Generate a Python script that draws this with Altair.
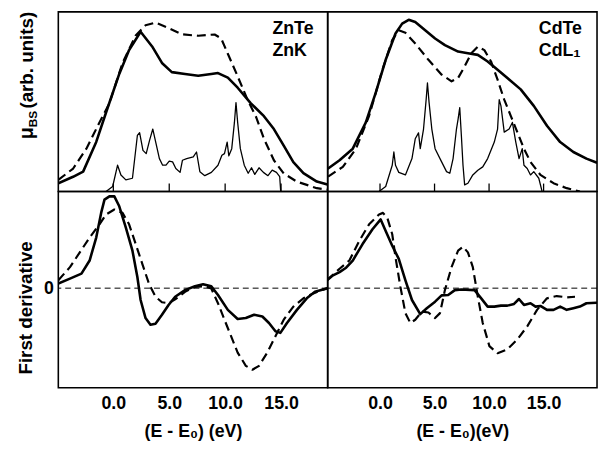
import altair as alt
import pandas as pd

FONT = "Liberation Sans"

# ---------------- data ----------------
# Top-left: ZnTe, Zn K edge  (mu_BS, arb. units)
tl_solid_E = [-4.92, -3.6, -2.7, -1.53, -0.65, 0.53, 1.41, 2.44, 3.47, 4.35, 5.23, 6.41, 7.59, 8.76, 9.36,
              10.24, 11.12, 12.3, 13.47, 14.36, 15.24, 16.1, 17.0, 18.2, 19.15]
tl_solid_V = [0.045, 0.08, 0.108, 0.27, 0.43, 0.64, 0.77, 0.87, 0.79, 0.70, 0.65, 0.64, 0.63, 0.64, 0.645,
              0.62, 0.565, 0.48, 0.41, 0.34, 0.25, 0.16, 0.10, 0.054, 0.038]
tl_dash_E = [-4.92, -3.59, -2.41, -1.24, -0.35, 0.82, 2.0, 2.88, 3.77, 4.94, 6.12, 7.59, 9.06, 9.65, 10.24,
             11.12, 12.0, 12.74, 13.47, 14.36, 15.24, 16.4, 18.2, 19.15]
tl_dash_V = [0.063, 0.125, 0.233, 0.376, 0.48, 0.70, 0.85, 0.905, 0.92, 0.89, 0.856, 0.848, 0.855, 0.833, 0.75,
             0.627, 0.50, 0.41, 0.287, 0.17, 0.098, 0.054, 0.018, 0.01]
tl_dos_E = [-0.65, -0.06, 0.38, 0.68, 1.12, 1.71, 2.15, 2.35, 2.65, 2.94, 3.24, 3.53, 3.82, 4.12, 4.41, 4.71,
            5.0, 5.3, 5.59, 5.97, 6.18, 6.56, 7.15, 7.44, 7.74, 8.18, 8.77, 9.36, 9.71, 9.94, 10.18, 10.33,
            10.59, 10.83, 10.97, 11.12, 11.36, 11.71, 12.06, 12.36, 12.65, 13.03, 13.42, 13.83, 14.21, 14.59,
            14.88, 14.97]
tl_dos_V = [0.0, 0.027, 0.143, 0.09, 0.063, 0.072, 0.305, 0.32, 0.224, 0.206, 0.278, 0.34, 0.26, 0.179, 0.143,
            0.143, 0.165, 0.161, 0.125, 0.104, 0.17, 0.179, 0.188, 0.215, 0.108, 0.086, 0.104, 0.143, 0.197,
            0.206, 0.269, 0.194, 0.233, 0.376, 0.484, 0.376, 0.233, 0.143, 0.099, 0.129, 0.093, 0.129, 0.104,
            0.086, 0.116, 0.104, 0.081, 0.0]

# Top-right: CdTe, Cd L1 edge
tr_solid_E = [-4.76, -3.71, -2.5, -1.3, -0.39, 0.52, 1.42, 2.03, 2.63, 3.23, 4.14, 5.05, 5.95, 7.16, 8.06,
              8.97, 9.87, 10.78, 11.68, 12.9, 14.1, 15.31, 16.52, 17.73, 18.93, 19.84]
tr_solid_V = [0.125, 0.17, 0.233, 0.376, 0.538, 0.717, 0.86, 0.914, 0.935, 0.923, 0.878, 0.833, 0.797, 0.762,
              0.753, 0.744, 0.708, 0.663, 0.618, 0.556, 0.466, 0.358, 0.269, 0.215, 0.179, 0.158]
tr_dash_E = [-4.76, -3.41, -2.2, -1.0, 0.22, 1.12, 1.72, 2.33, 3.23, 4.44, 5.65, 6.56, 7.16, 7.76, 8.37, 8.97,
             9.57, 10.18, 10.78, 11.39, 11.99, 12.59, 13.2, 13.8, 14.71, 15.91, 17.12, 18.33]
tr_dash_V = [0.081, 0.134, 0.233, 0.412, 0.663, 0.824, 0.878, 0.864, 0.806, 0.717, 0.636, 0.60, 0.618, 0.681,
             0.753, 0.789, 0.77, 0.708, 0.609, 0.50, 0.412, 0.323, 0.233, 0.161, 0.09, 0.045, 0.018, 0.0]
tr_dos_E = [-0.09, 0.52, 1.12, 1.27, 1.42, 1.72, 2.33, 2.93, 3.23, 3.53, 3.69, 3.99, 4.23, 4.35, 4.5, 4.75,
            5.05, 5.65, 6.1, 6.4, 6.7, 7.01, 7.16, 7.31, 7.46, 7.61, 7.76, 8.06, 8.51, 8.97, 9.42, 9.87,
            10.48, 10.78, 10.93, 11.09, 11.39, 11.84, 12.14, 12.45, 12.75, 13.04, 13.2, 13.5, 13.8, 14.1,
            14.56, 14.86]
tr_dos_V = [0.0, 0.027, 0.143, 0.215, 0.143, 0.104, 0.09, 0.179, 0.287, 0.319, 0.233, 0.34, 0.50, 0.591,
            0.484, 0.34, 0.233, 0.161, 0.108, 0.099, 0.179, 0.34, 0.394, 0.457, 0.305, 0.143, 0.036, 0.045,
            0.09, 0.116, 0.134, 0.179, 0.269, 0.34, 0.50, 0.466, 0.323, 0.34, 0.376, 0.269, 0.179, 0.233,
            0.143, 0.125, 0.09, 0.108, 0.072, 0.0]

# Bottom-left: first derivative, ZnTe
bl_solid_E = [-4.92, -3.88, -2.85, -2.12, -1.53, -1.09, -0.79, -0.35, 0.09, 0.53, 1.12, 1.71, 2.15, 2.44,
              2.88, 3.32, 3.77, 4.35, 4.94, 5.53, 6.41, 7.3, 8.03, 8.76, 9.36, 10.24, 11.12, 11.85, 12.59,
              13.33, 13.92, 14.5, 14.94, 15.53, 16.42, 17.3, 18.03, 19.15]
bl_solid_V = [0.047, 0.097, 0.147, 0.28, 0.513, 0.763, 0.897, 0.93, 0.93, 0.83, 0.613, 0.38, 0.113, -0.12,
              -0.303, -0.37, -0.36, -0.27, -0.17, -0.087, -0.02, 0.02, 0.04, 0.02, -0.07, -0.22, -0.313,
              -0.303, -0.27, -0.287, -0.353, -0.437, -0.453, -0.353, -0.22, -0.103, -0.037, 0.0]
bl_dash_E = [-4.92, -3.88, -3.0, -2.12, -1.24, -0.65, 0.09, 0.82, 1.41, 2.0, 2.59, 3.18, 3.77, 4.35, 4.94,
             5.53, 6.41, 7.3, 8.18, 8.76, 9.36, 9.94, 10.53, 11.12, 11.85, 12.44, 13.03, 13.77, 14.5, 15.24,
             16.1, 17.0, 17.89, 19.15]
bl_dash_V = [0.08, 0.213, 0.363, 0.513, 0.647, 0.747, 0.797, 0.763, 0.647, 0.447, 0.247, 0.047, -0.087,
             -0.143, -0.153, -0.113, -0.037, 0.013, 0.02, -0.003, -0.153, -0.32, -0.487, -0.653, -0.787,
             -0.827, -0.787, -0.653, -0.487, -0.32, -0.187, -0.103, -0.053, 0.0]

# Bottom-right: first derivative, CdTe
br_solid_E = [-4.86, -4.31, -3.71, -3.11, -2.5, -1.6, -0.69, 0.06, 0.52, 1.12, 1.72, 2.33, 2.93, 3.69, 4.29,
              5.05, 5.65, 6.25, 6.86, 7.46, 8.67, 9.28, 9.87, 10.48, 11.09, 11.68, 12.29, 12.74, 13.2, 13.8,
              14.26, 14.71, 15.31, 15.91, 16.52, 17.12, 17.73, 18.33, 18.93, 19.84]
br_solid_V = [0.08, 0.13, 0.163, 0.207, 0.28, 0.447, 0.597, 0.697, 0.58, 0.43, 0.297, 0.08, -0.12, -0.263,
              -0.203, -0.137, -0.073, -0.07, -0.02, -0.013, -0.02, -0.103, -0.187, -0.187, -0.177, -0.177,
              -0.16, -0.11, -0.17, -0.153, -0.187, -0.18, -0.22, -0.22, -0.187, -0.22, -0.203, -0.187,
              -0.153, -0.147]
br_dash_E = [-4.86, -3.71, -2.81, -1.9, -1.0, -0.09, 0.27, 0.67, 1.12, 1.42, 1.87, 2.33, 2.78, 3.23, 3.84,
             4.44, 5.05, 5.5, 5.95, 6.56, 7.16, 7.61, 8.06, 8.51, 8.97, 9.42, 10.03, 10.78, 11.68, 12.59,
             13.5, 14.4, 15.31, 16.21, 17.12, 17.88]
br_dash_V = [0.08, 0.197, 0.28, 0.48, 0.647, 0.747, 0.763, 0.713, 0.547, 0.313, 0.013, -0.253, -0.353,
             -0.32, -0.237, -0.247, -0.303, -0.253, -0.02, 0.213, 0.38, 0.42, 0.363, 0.213, -0.087, -0.353,
             -0.587, -0.66, -0.62, -0.52, -0.387, -0.22, -0.103, -0.08, -0.093, -0.087]

tick_values = [0, 5, 10, 15]
zero_value = [0]

# ---------------- layout constants ----------------
W = 273
H_TOP = 182
H_BOT = 199
XDOM_L = [-4.92, 19.17]
XDOM_R = [-4.8, 19.9]
YDOM_TOP = [0, 0.978]
YDOM_BOT = [-1.01, 0.98]


def lines_layer(E, V, xdom, ydom, width, dash=None, xaxis=None, yaxis=None):
    df = pd.DataFrame({"E": E, "v": V})
    kw = dict(color="black", strokeWidth=width, clip=True, strokeJoin="round", strokeCap="round")
    if dash is not None:
        kw["strokeDash"] = dash
        kw["strokeCap"] = "butt"
    return alt.Chart(df).mark_line(**kw).encode(
        x=alt.X("E:Q", scale=alt.Scale(domain=xdom, nice=False, zero=False), axis=xaxis),
        y=alt.Y("v:Q", scale=alt.Scale(domain=ydom, nice=False, zero=False), axis=yaxis),
    )


def inner_ticks(xdom, H):
    df = pd.DataFrame({"E": tick_values})
    return alt.Chart(df).mark_rule(color="black", strokeWidth=1.3).encode(
        x=alt.X("E:Q", scale=alt.Scale(domain=xdom, nice=False, zero=False), axis=None),
        y=alt.value(H),
        y2=alt.value(H - 8),
    )


def label(text, x, y, size=18, angle=0, align="left"):
    df = pd.DataFrame({"t": [text]})
    return alt.Chart(df).mark_text(
        align=align, baseline="middle", fontSize=size, font=FONT, fontWeight="bold",
        color="black", angle=angle,
    ).encode(text="t:N", x=alt.value(x), y=alt.value(y))


def zero_line(ydom, yaxis=None):
    df = pd.DataFrame({"z": zero_value})
    return alt.Chart(df).mark_rule(color="black", strokeWidth=1, strokeDash=[6, 4]).encode(
        y=alt.Y("z:Q", scale=alt.Scale(domain=ydom, nice=False, zero=False), axis=yaxis)
    )


def x_axis(title):
    return alt.Axis(values=tick_values, format=".1f", labelFontSize=18, labelFont=FONT,
                    labelFontWeight="bold", labelColor="black", ticks=False, domain=False,
                    grid=False, labelPadding=7, labelOverlap=False, labelFlush=False,
                    title=title, titleFontSize=18, titleFont=FONT, titleFontWeight="bold",
                    titleColor="black", titlePadding=10)


# ---------------- panels ----------------
SOLID_W = 2.6
DASH_W = 2.2
DOS_W = 1.3
DASH = [9, 5]

tl = alt.layer(
    lines_layer(tl_dos_E, tl_dos_V, XDOM_L, YDOM_TOP, DOS_W),
    lines_layer(tl_dash_E, tl_dash_V, XDOM_L, YDOM_TOP, DASH_W, DASH),
    lines_layer(tl_solid_E, tl_solid_V, XDOM_L, YDOM_TOP, SOLID_W),
    inner_ticks(XDOM_L, H_TOP),
    label("ZnTe", 217, 17),
    label("ZnK", 217, 40),
    label("\u03bc", -32, 129, size=20, angle=270),
    label("BS", -26, 117, size=12, angle=270),
    label("(arb. units)", -32, 98, size=19, angle=270),
).properties(width=W, height=H_TOP)

tr = alt.layer(
    lines_layer(tr_dos_E, tr_dos_V, XDOM_R, YDOM_TOP, DOS_W),
    lines_layer(tr_dash_E, tr_dash_V, XDOM_R, YDOM_TOP, DASH_W, DASH),
    lines_layer(tr_solid_E, tr_solid_V, XDOM_R, YDOM_TOP, SOLID_W),
    inner_ticks(XDOM_R, H_TOP),
    label("CdTe", 214, 17),
    label("CdL\u2081", 214, 40),
).properties(width=W, height=H_TOP)

bl_xaxis = x_axis("(E - E\u2080) (eV)")
bl_yaxis = alt.Axis(values=zero_value, format="d", labelFontSize=18, labelFont=FONT,
                    labelFontWeight="bold", labelColor="black", ticks=False, domain=False,
                    grid=False, labelPadding=5, title=None)

bl = alt.layer(
    zero_line(YDOM_BOT, bl_yaxis),
    lines_layer(bl_dash_E, bl_dash_V, XDOM_L, YDOM_BOT, DASH_W, DASH, xaxis=bl_xaxis, yaxis=bl_yaxis),
    lines_layer(bl_solid_E, bl_solid_V, XDOM_L, YDOM_BOT, SOLID_W, xaxis=bl_xaxis, yaxis=bl_yaxis),
    label("First derivative", -33, 118, size=19, angle=270, align="center"),
).properties(width=W, height=H_BOT)

br_xaxis = x_axis("(E - E\u2080)(eV)")
br = alt.layer(
    zero_line(YDOM_BOT),
    lines_layer(br_dash_E, br_dash_V, XDOM_R, YDOM_BOT, DASH_W, DASH, xaxis=br_xaxis),
    lines_layer(br_solid_E, br_solid_V, XDOM_R, YDOM_BOT, SOLID_W, xaxis=br_xaxis),
).properties(width=W, height=H_BOT)

chart = alt.concat(
    tl, tr, bl, br, columns=2, spacing=0, bounds="flush", align="each"
).resolve_scale(
    x="independent", y="independent"
).configure_view(
    stroke="black", strokeWidth=1.6
).properties(
    padding={"left": 8, "top": 0, "right": 0, "bottom": 0},
    background="white",
)

chart.save("out.html", embed_options={"renderer": "svg", "actions": False})
